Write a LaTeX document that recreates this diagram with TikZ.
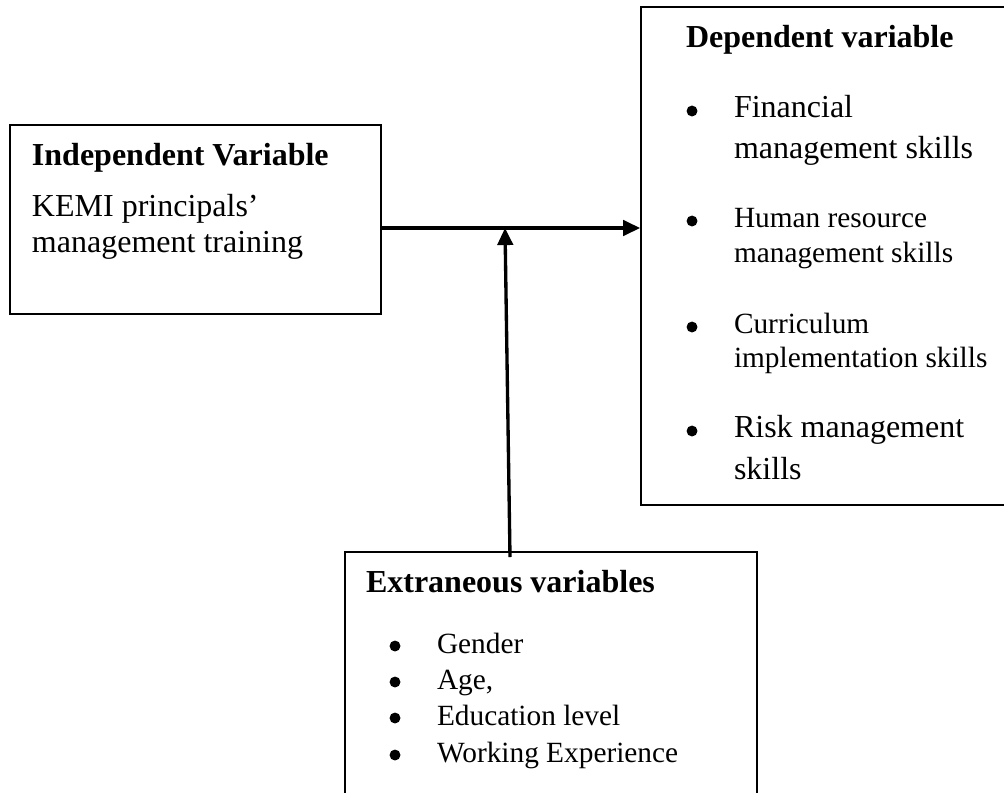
\documentclass[tikz,border=0pt]{standalone}
\usepackage{fontspec}
\setmainfont{Liberation Serif}
\usetikzlibrary{arrows.meta,fit}
\tikzset{
  box/.style={draw, line width=0.65pt, inner sep=0pt},
  lbl/.style={anchor=base west, inner sep=0pt, outer sep=0pt},
  hd/.style={lbl, font=\fontsize{12}{14}\selectfont\bfseries},
  tx/.style={lbl, font=\fontsize{12}{14}\selectfont},
  sm/.style={lbl, font=\fontsize{11}{13}\selectfont},
  dot/.style={circle, fill=black, inner sep=0pt, minimum size=4.1pt},
  arr/.style={line width=1.25pt, -{Triangle[length=6.4pt,width=5.8pt]}}
}
\begin{document}
\begin{tikzpicture}[x=0.375pt,y=-0.375pt]
\useasboundingbox (0,0) rectangle (1004,792);
% boxes
\node[box, fit={(10,125) (381,314)}] (ind) {};
\node[box, fit={(641,7) (1020,505)}] (dep) {};
\node[box, fit={(345,552) (757,800)}] (ext) {};
% independent
\node[hd] (indh) at (32,165) {Independent Variable};
\node[tx] (ind1) at (32,216) {KEMI principals’};
\node[tx] (ind2) at (32,252) {management training};
% dependent
\node[hd] (deph) at (686,47) {Dependent variable};
\node[dot] (db1) at (692,111) {};
\node[tx] (d1a) at (734,117) {Financial};
\node[tx] (d1b) at (734,158) {management skills};
\node[dot] (db2) at (692,221) {};
\node[sm] (d2a) at (734,227) {Human resource};
\node[sm] (d2b) at (734,262) {management skills};
\node[dot] (db3) at (692,327) {};
\node[sm] (d3a) at (734,333) {Curriculum};
\node[sm] (d3b) at (734,367) {implementation skills};
\node[dot] (db4) at (692,431) {};
\node[tx] (d4a) at (734,437) {Risk management};
\node[tx] (d4b) at (734,479) {skills};
% extraneous
\node[hd] (exth) at (366,592) {Extraneous variables};
\node[dot] (eb1) at (395,646) {};
\node[sm] (e1) at (437,653) {Gender};
\node[dot] (eb2) at (395,682) {};
\node[sm] (e2) at (437,689) {Age,};
\node[dot] (eb3) at (395,718) {};
\node[sm] (e3) at (437,725) {Education level};
\node[dot] (eb4) at (395,755) {};
\node[sm] (e4) at (437,762) {Working Experience};
% connectors
\coordinate (join) at (505,228);
\coordinate (vs) at (510,557);
\draw[arr] (ind.east |- join) -- (dep.west |- join);
\draw[arr] (vs) -- (join);
\end{tikzpicture}
\end{document}
